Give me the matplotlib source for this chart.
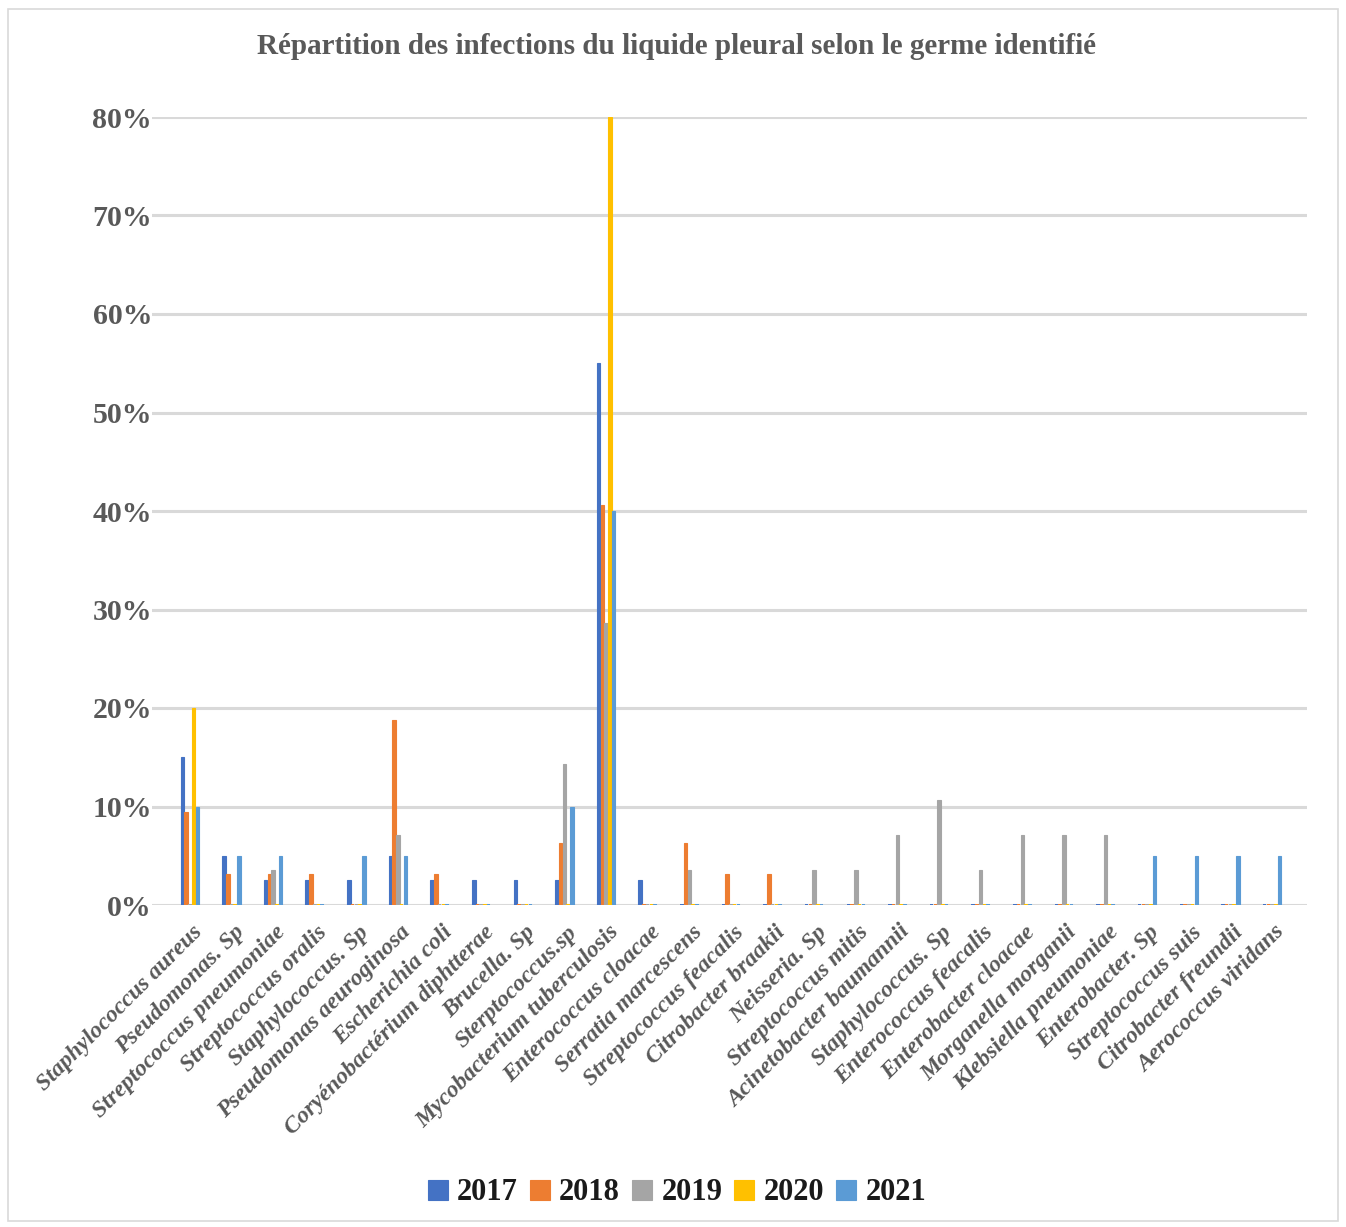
import matplotlib
matplotlib.use("Agg")
import matplotlib.pyplot as plt
import numpy as np
from matplotlib.patches import Rectangle

plt.rcParams["font.family"] = ["Liberation Serif", "DejaVu Serif"]

# germes identifiés (ordre de l'axe des x)
germes = [
    "Staphylococcus aureus", "Pseudomonas. Sp", "Streptococcus pneumoniae",
    "Streptococcus oralis", "Staphylococcus. Sp", "Pseudomonas aeuroginosa",
    "Escherichia coli", "Coryénobactérium diphtterae", "Brucella. Sp",
    "Sterptococcus.sp", "Mycobacterium tuberculosis", "Enterococcus cloacae",
    "Serratia marcescens", "Streptococcus feacalis", "Citrobacter braakii",
    "Neisseria. Sp", "Streptococcus mitis", "Acinetobacter baumannii",
    "Staphylococcus. Sp", "Enterococcus feacalis", "Enterobacter cloacae",
    "Morganella morganii", "Klebsiella pneumoniae", "Enterobacter. Sp",
    "Streptococcus suis", "Citrobacter freundii", "Aerococcus viridans",
]

# pourcentages
v2017 = [15, 5, 2.5, 2.5, 2.5, 5, 2.5, 2.5, 2.5, 2.5, 55, 2.5, 0, 0, 0,
         0, 0, 0, 0, 0, 0, 0, 0, 0, 0, 0, 0]
v2018 = [9.4, 3.1, 3.1, 3.1, 0, 18.75, 3.1, 0, 0, 6.25, 40.6, 0, 6.25, 3.1, 3.1,
         0, 0, 0, 0, 0, 0, 0, 0, 0, 0, 0, 0]
v2019 = [0, 0, 3.6, 0, 0, 7.1, 0, 0, 0, 14.3, 28.6, 0, 3.6, 0, 0,
         3.6, 3.6, 7.1, 10.7, 3.6, 7.1, 7.1, 7.1, 0, 0, 0, 0]
v2020 = [20, 0, 0, 0, 0, 0, 0, 0, 0, 0, 80, 0, 0, 0, 0,
         0, 0, 0, 0, 0, 0, 0, 0, 0, 0, 0, 0]
v2021 = [10, 5, 5, 0, 5, 5, 0, 0, 0, 10, 40, 0, 0, 0, 0,
         0, 0, 0, 0, 0, 0, 0, 0, 5, 5, 5, 5]

annees = ["2017", "2018", "2019", "2020", "2021"]
series = [v2017, v2018, v2019, v2020, v2021]
couleurs = ["#4472C4", "#ED7D31", "#A5A5A5", "#FFC000", "#5B9BD5"]

fig = plt.figure(figsize=(13.46, 12.27), dpi=100)
ax = fig.add_axes([152 / 1346, 1 - 905 / 1227, 1155 / 1346, (905 - 117) / 1227])

x = np.arange(len(germes))
largeur = 0.085
for i, (annee, vals, c) in enumerate(zip(annees, series, couleurs)):
    ax.bar(x + (i - 2) * 0.09, np.array(vals) / 100, width=largeur, color=c,
           edgecolor=c, linewidth=0.8, label=annee, zorder=3)
    # petits traits à la base pour les valeurs nulles (comme Excel)
    ax.bar(x + (i - 2) * 0.09, 0.0012, width=largeur, color=c, linewidth=0, zorder=3)

ax.set_ylim(0, 0.8)
ax.set_xlim(-0.91, 26.84)
ticks = np.arange(0, 0.81, 0.1)
ax.set_yticks(ticks)
ax.set_yticklabels([f"{int(round(t * 100))}%" for t in ticks],
                   fontsize=21.5, fontweight="bold", color="#595959")
ax.yaxis.grid(True, color="#d9d9d9", linewidth=2.2, zorder=0)
ax.tick_params(axis="y", length=0, pad=0)
ax.tick_params(axis="x", length=0, pad=12)
for s in ax.spines.values():
    s.set_visible(False)

ax.set_xticks(x + 0.05)
ax.set_xticklabels(germes, rotation=45, ha="right", va="top", rotation_mode="anchor",
                   fontsize=17, fontweight="bold", fontstyle="italic", color="#595959")

fig.text(0.5025, 1 - 47 / 1227, "Répartition des infections du liquide pleural selon le germe identifié",
         ha="center", va="center", fontsize=21, fontweight="bold", color="#595959")

leg = fig.legend(loc="center", bbox_to_anchor=(677 / 1346, 1 - 1193 / 1227), ncol=5,
                 frameon=False, handlelength=0.65, handleheight=0.65, handletextpad=0.3,
                 columnspacing=0.4, prop={"size": 22, "weight": "bold"})
for t in leg.get_texts():
    t.set_color("#1a1a1a")

# cadre du graphique
fig.patches.append(Rectangle((8 / 1346, 6 / 1227), 1330 / 1346, 1212 / 1227,
                             transform=fig.transFigure, fill=False,
                             edgecolor="#d9d9d9", linewidth=1.2))

fig.savefig("out.png", dpi=100)
